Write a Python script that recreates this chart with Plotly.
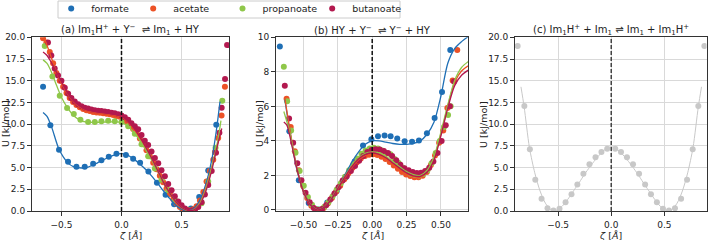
import plotly.graph_objects as go

# ---------------- colours ----------------
C_FORM = "#1f6fb5"
C_ACET = "#ec5226"
C_PROP = "#8fc74a"
C_BUTA = "#b3194f"
C_GREY = "#c8c8c8"

series_names = ["formate", "acetate", "propanoate", "butanoate"]

# ---------------- panel (a): Im1H+ + Y-  <=> Im1 + HY ----------------
a_form_x = [-0.653, -0.592, -0.52, -0.445, -0.375, -0.306, -0.236, -0.167, -0.106, -0.042,
            0.037, 0.097, 0.155, 0.224, 0.295, 0.367, 0.438, 0.505, 0.578, 0.647, 0.722, 0.789]
a_form_y = [14.3, 9.86, 7.04, 5.66, 5.09, 5.09, 5.43, 5.85, 6.24, 6.58,
            6.45, 6.02, 5.55, 4.55, 3.25, 1.88, 0.77, 0.25, 0.3, 1.6, 4.67, 9.94]

a_acet_x = [-0.653, -0.625, -0.597, -0.569, -0.542, -0.514, -0.486, -0.458, -0.431, -0.403,
            -0.375, -0.347, -0.319, -0.292, -0.264, -0.236, -0.208, -0.181, -0.153, -0.125,
            -0.097, -0.069, -0.042, -0.014, 0.014, 0.042, 0.069, 0.097, 0.125, 0.153,
            0.181, 0.208, 0.236, 0.264, 0.292, 0.319, 0.347, 0.375, 0.403, 0.431,
            0.458, 0.486, 0.514, 0.542, 0.569, 0.597, 0.625, 0.653, 0.681, 0.708,
            0.736, 0.764, 0.778, 0.805, 0.833, 0.861]
a_acet_y = [19.9, 19.4, 18.3, 17.0, 15.9, 15.0, 14.3, 13.6, 13.0, 12.55,
            12.2, 11.95, 11.75, 11.6, 11.5, 11.4, 11.35, 11.3, 11.25, 11.2,
            11.15, 11.05, 10.95, 10.85, 10.6, 10.3, 9.9, 9.45, 8.95, 8.35,
            7.7, 7.0, 6.3, 5.55, 4.8, 4.05, 3.3, 2.6, 1.95, 1.35,
            0.85, 0.45, 0.2, 0.06, 0.05, 0.2, 0.55, 1.2, 2.2, 3.4,
            4.6, 5.9, 6.8, 8.4, 11.0, 14.3]

a_prop_x = [-0.639, -0.575, -0.514, -0.453, -0.397, -0.342, -0.278, -0.222, -0.167, -0.111,
            -0.056, 0.0, 0.056, 0.111, 0.167, 0.222, 0.278, 0.333, 0.389, 0.444,
            0.5, 0.556, 0.611, 0.667, 0.722, 0.783, 0.839]
a_prop_y = [19.0, 15.5, 13.27, 11.86, 11.17, 10.5, 10.25, 10.25, 10.32, 10.4,
            10.32, 10.25, 9.75, 8.9, 7.7, 6.3, 4.9, 3.6, 2.4, 1.3,
            0.55, 0.15, 0.15, 0.9, 3.4, 7.27, 12.7]

a_buta_x = [-0.612, -0.584, -0.556, -0.528, -0.5, -0.472, -0.444, -0.417, -0.389, -0.361,
            -0.333, -0.306, -0.278, -0.25, -0.222, -0.194, -0.167, -0.139, -0.111, -0.083,
            -0.056, -0.028, 0.0, 0.028, 0.056, 0.083, 0.111, 0.139, 0.167, 0.194,
            0.222, 0.25, 0.278, 0.306, 0.333, 0.361, 0.389, 0.417, 0.444, 0.472,
            0.5, 0.528, 0.556, 0.583, 0.611, 0.639, 0.667, 0.694, 0.722, 0.751,
            0.787, 0.815, 0.834, 0.862, 0.879]
a_buta_y = [19.4, 17.9, 16.4, 15.6, 15.0, 14.2, 13.5, 13.0, 12.6, 12.3,
            12.05, 11.9, 11.8, 11.7, 11.6, 11.55, 11.5, 11.45, 11.4, 11.3,
            11.25, 11.15, 11.0, 10.8, 10.5, 10.1, 9.75, 9.4, 8.75, 8.1,
            7.6, 6.85, 6.1, 5.5, 4.7, 4.0, 3.1, 2.4, 1.7, 1.1,
            0.65, 0.3, 0.1, 0.05, 0.15, 0.45, 1.0, 1.9, 3.0, 4.6,
            6.7, 9.0, 11.9, 15.2, 19.1]

# fitted curves (a)
a_form_fx = [-0.653, -0.62, -0.58, -0.52, -0.45, -0.4, -0.33, -0.28, -0.2, -0.12, -0.05, 0.0, 0.05,
             0.1, 0.15, 0.2, 0.25, 0.3, 0.35, 0.4, 0.45, 0.5, 0.55, 0.6, 0.65, 0.7, 0.75, 0.79, 0.82]
a_form_fy = [11.35, 10.9, 9.6, 7.1, 5.6, 5.1, 4.95, 5.05, 5.55, 6.1, 6.5, 6.6, 6.45,
             6.0, 5.45, 4.8, 4.05, 3.2, 2.3, 1.45, 0.7, 0.2, 0.02, 0.25, 1.2, 3.0, 5.8, 9.3, 12.6]
a_acet_fx = [-0.645, -0.6, -0.55, -0.5, -0.45, -0.4, -0.35, -0.3, -0.2, -0.1, 0.0, 0.05, 0.1, 0.15,
             0.2, 0.25, 0.3, 0.35, 0.4, 0.45, 0.5, 0.55, 0.6, 0.65, 0.7, 0.75, 0.8, 0.82]
a_acet_fy = [20.0, 18.3, 16.3, 14.7, 13.5, 12.6, 12.0, 11.6, 11.3, 11.1, 10.8, 10.3, 9.5, 8.5,
             7.3, 6.0, 4.6, 3.2, 2.0, 1.0, 0.35, 0.05, 0.15, 0.9, 2.6, 5.0, 7.7, 8.9]
a_prop_fx = [-0.653, -0.62, -0.58, -0.55, -0.5, -0.45, -0.4, -0.35, -0.3, -0.2, -0.1, 0.0, 0.05, 0.1,
             0.15, 0.2, 0.25, 0.3, 0.35, 0.4, 0.45, 0.5, 0.55, 0.6, 0.65, 0.7, 0.75, 0.8, 0.828]
a_prop_fy = [17.4, 17.0, 15.9, 14.8, 13.1, 11.9, 11.0, 10.5, 10.25, 10.2, 10.25, 10.2, 9.8, 9.1,
             8.2, 7.1, 5.9, 4.6, 3.3, 2.1, 1.1, 0.4, 0.05, 0.1, 0.8, 2.4, 4.9, 8.0, 10.4]
a_buta_fx = [-0.653, -0.62, -0.58, -0.55, -0.5, -0.45, -0.4, -0.35, -0.3, -0.2, -0.1, 0.0, 0.05, 0.1,
             0.15, 0.2, 0.25, 0.3, 0.35, 0.4, 0.45, 0.5, 0.55, 0.6, 0.65, 0.7, 0.75, 0.8, 0.835]
a_buta_fy = [18.3, 17.9, 17.0, 16.2, 14.9, 13.6, 12.7, 12.1, 11.7, 11.4, 11.2, 10.9, 10.4, 9.6,
             8.6, 7.4, 6.1, 4.7, 3.3, 2.1, 1.1, 0.4, 0.08, 0.1, 0.7, 2.2, 4.6, 7.6, 9.5]

# ---------------- panel (b): HY + Y-  <=> Y- + HY ----------------
b_form_x = [-0.672, -0.603, -0.534, -0.462, -0.393, -0.327, -0.258, -0.192, -0.128, -0.067, -0.006,
            0.042, 0.09, 0.134, 0.182, 0.236, 0.29, 0.34, 0.398, 0.454, 0.508, 0.568]
b_form_y = [9.46, 4.56, 1.72, 0.4, 0.02, 0.43, 1.1, 1.9, 2.8, 3.73, 4.1,
            4.27, 4.31, 4.27, 4.14, 3.98, 3.95, 4.02, 4.44, 5.33, 6.83, 9.27]

b_acet_x = [-0.623, -0.593, -0.563, -0.533, -0.503, -0.473, -0.443, -0.413, -0.383, -0.353,
            -0.323, -0.293, -0.263, -0.233, -0.203, -0.173, -0.143, -0.113, -0.083, -0.053,
            -0.023, 0.007, 0.037, 0.067, 0.097, 0.127, 0.157, 0.187, 0.217, 0.247,
            0.277, 0.307, 0.337, 0.367, 0.397, 0.427, 0.457, 0.487, 0.517, 0.547,
            0.585, 0.619]
b_acet_y = [6.44, 4.8, 3.4, 2.3, 1.4, 0.7, 0.25, 0.03, 0.0, 0.12,
            0.38, 0.7, 1.05, 1.4, 1.78, 2.12, 2.45, 2.75, 2.98, 3.12,
            3.2, 3.22, 3.18, 3.08, 2.95, 2.78, 2.58, 2.38, 2.2, 2.06,
            1.96, 1.9, 1.9, 1.98, 2.2, 2.6, 3.15, 3.9, 4.6, 5.9,
            7.5, 9.27]

b_prop_x = [-0.643, -0.619, -0.59, -0.558, -0.528, -0.498, -0.468, -0.438, -0.408, -0.378,
            -0.348, -0.318, -0.288, -0.258, -0.228, -0.198, -0.168, -0.138, -0.108, -0.078,
            -0.048, -0.018, 0.012, 0.042, 0.072, 0.102, 0.132, 0.162, 0.192, 0.222,
            0.252, 0.282, 0.312, 0.342, 0.372, 0.402, 0.432, 0.462, 0.492, 0.522,
            0.552, 0.571]
b_prop_y = [8.3, 6.29, 4.6, 3.31, 2.25, 1.4, 0.75, 0.3, 0.06, 0.02,
            0.18, 0.45, 0.8, 1.18, 1.55, 1.93, 2.3, 2.65, 2.98, 3.25,
            3.45, 3.56, 3.6, 3.56, 3.45, 3.3, 3.22, 2.95, 2.72, 2.45,
            2.25, 2.1, 2.02, 2.0, 2.08, 2.3, 2.7, 3.3, 4.0, 4.8,
            5.5, 6.0]

b_buta_x = [-0.636, -0.605, -0.575, -0.545, -0.515, -0.485, -0.455, -0.425, -0.395, -0.365,
            -0.335, -0.305, -0.275, -0.245, -0.215, -0.185, -0.155, -0.125, -0.095, -0.065,
            -0.035, -0.005, 0.025, 0.055, 0.085, 0.115, 0.145, 0.175, 0.205, 0.235,
            0.265, 0.295, 0.325, 0.355, 0.385, 0.415, 0.445, 0.475, 0.505, 0.535,
            0.565, 0.595]
b_buta_y = [7.2, 5.3, 3.89, 2.7, 1.72, 1.0, 0.45, 0.12, 0.0, 0.06,
            0.28, 0.6, 0.95, 1.32, 1.7, 1.95, 2.25, 2.55, 2.85, 3.12,
            3.35, 3.48, 3.52, 3.5, 3.42, 3.3, 3.12, 2.88, 2.62, 2.42,
            2.3, 2.2, 2.14, 2.15, 2.25, 2.45, 2.8, 3.3, 4.0, 4.9,
            6.0, 7.44]

# fitted curves (b)
b_form_fx = [-0.636, -0.6, -0.55, -0.5, -0.45, -0.4, -0.35, -0.3, -0.25, -0.2, -0.15, -0.1, -0.05, 0.0,
             0.05, 0.1, 0.15, 0.2, 0.25, 0.3, 0.35, 0.4, 0.45, 0.5, 0.55, 0.6, 0.65, 0.7]
b_form_fy = [6.4, 4.6, 2.4, 1.05, 0.3, 0.02, 0.15, 0.6, 1.25, 2.0, 2.75, 3.35, 3.8, 4.0,
             4.0, 3.93, 3.85, 3.8, 3.8, 3.85, 4.0, 4.4, 5.1, 6.6, 8.5, 9.35, 9.75, 10.05]
b_acet_fx = [-0.636, -0.6, -0.55, -0.5, -0.45, -0.4, -0.35, -0.3, -0.25, -0.2, -0.15, -0.1, -0.05, 0.0,
             0.05, 0.1, 0.15, 0.2, 0.25, 0.3, 0.35, 0.4, 0.45, 0.5, 0.55, 0.6, 0.65, 0.7]
b_acet_fy = [6.5, 4.7, 2.5, 1.05, 0.3, 0.0, 0.15, 0.6, 1.2, 1.85, 2.45, 2.9, 3.15, 3.22,
             3.15, 2.95, 2.65, 2.35, 2.1, 1.93, 1.9, 2.2, 3.0, 4.4, 6.0, 7.4, 8.05, 8.35]
b_prop_fx = [-0.643, -0.6, -0.55, -0.5, -0.45, -0.4, -0.35, -0.3, -0.25, -0.2, -0.15, -0.1, -0.05, 0.0,
             0.05, 0.1, 0.15, 0.2, 0.25, 0.3, 0.35, 0.4, 0.45, 0.5, 0.55, 0.6, 0.65, 0.7]
b_prop_fy = [5.7, 4.5, 2.5, 1.1, 0.32, 0.02, 0.17, 0.65, 1.3, 1.95, 2.55, 3.0, 3.28, 3.36,
             3.3, 3.1, 2.8, 2.5, 2.22, 2.05, 2.0, 2.3, 3.1, 4.5, 6.1, 7.5, 8.25, 8.6]
b_buta_fx = [-0.643, -0.62, -0.6, -0.55, -0.5, -0.45, -0.4, -0.35, -0.3, -0.25, -0.2, -0.15, -0.1, -0.05,
             0.0, 0.05, 0.1, 0.15, 0.2, 0.25, 0.3, 0.35, 0.4, 0.45, 0.5, 0.55, 0.6, 0.65, 0.7]
b_buta_fy = [5.1, 4.9, 4.3, 2.45, 1.05, 0.3, 0.0, 0.15, 0.6, 1.25, 1.9, 2.5, 2.95, 3.22,
             3.3, 3.22, 3.02, 2.72, 2.42, 2.15, 1.98, 1.95, 2.2, 2.9, 4.3, 5.9, 7.2, 7.8, 8.1]

# ---------------- panel (c): Im1H+ + Im1 <=> Im1 + Im1H+ ----------------
c_x = [-0.881, -0.818, -0.766, -0.715, -0.656, -0.6, -0.544, -0.487, -0.43, -0.374, -0.319, -0.262,
       -0.205, -0.148, -0.092, -0.038, 0.038, 0.092, 0.148, 0.205, 0.262, 0.319, 0.374, 0.43,
       0.487, 0.544, 0.6, 0.658, 0.714, 0.767, 0.82, 0.877]
c_y = [19.0, 12.1, 7.1, 3.6, 1.4, 0.32, 0.06, 0.25, 1.02, 1.94, 3.06, 4.3,
       5.38, 6.2, 6.79, 7.18, 7.18, 6.79, 6.2, 5.38, 4.3, 3.06, 1.94, 1.02,
       0.25, 0.06, 0.32, 1.4, 3.6, 7.1, 12.1, 19.0]
c_fx = [-0.85, -0.82, -0.77, -0.72, -0.67, -0.62, -0.57, -0.54, -0.5, -0.45, -0.4, -0.35, -0.3,
        -0.25, -0.2, -0.15, -0.1, -0.05, 0.0, 0.05, 0.1, 0.15, 0.2, 0.25, 0.3, 0.35, 0.4,
        0.45, 0.5, 0.54, 0.57, 0.62, 0.67, 0.72, 0.77, 0.82, 0.85]
c_fy = [14.3, 12.0, 7.3, 4.4, 2.3, 0.9, 0.15, 0.02, 0.15, 0.7, 1.5, 2.4, 3.3,
        4.25, 5.1, 5.9, 6.6, 7.15, 7.4, 7.15, 6.6, 5.9, 5.1, 4.25, 3.3, 2.4, 1.5,
        0.7, 0.15, 0.02, 0.15, 0.9, 2.3, 4.4, 7.3, 12.0, 14.3]

titles = ["(a) Im<sub>1</sub>H<sup>+</sup> + Y<sup>\u2212</sup>  \u21cc Im<sub>1</sub> + HY",
          "(b) HY + Y<sup>\u2212</sup>  \u21cc Y<sup>\u2212</sup> + HY",
          "(c) Im<sub>1</sub>H<sup>+</sup> + Im<sub>1</sub> \u21cc Im<sub>1</sub> + Im<sub>1</sub>H<sup>+</sup>"]
ylabel = "U [kJ/mol]"
xlabel = "<i>\u03b6</i> [<i>\u00c5</i>]"

FONT = "DejaVu Sans"
MS = 6
LW = 1.3

fig = go.Figure()
legend_ids = ["legend", "legend2", "legend3", "legend4"]


def add_pts(x, y, color, xa, ya, name, legend, lid="legend"):
    fig.add_trace(go.Scatter(x=x, y=y, mode="markers", name=name, showlegend=legend, legend=lid,
                             marker=dict(color=color, size=MS, line=dict(width=0)),
                             xaxis=xa, yaxis=ya, cliponaxis=True))


def add_line(x, y, color, xa, ya, width=LW):
    fig.add_trace(go.Scatter(x=x, y=y, mode="lines", showlegend=False, hoverinfo="skip",
                             line=dict(color=color, width=width, shape="spline", smoothing=0.8),
                             xaxis=xa, yaxis=ya))


cols = [C_FORM, C_ACET, C_PROP, C_BUTA]
a_pts = [(a_form_x, a_form_y), (a_acet_x, a_acet_y), (a_prop_x, a_prop_y), (a_buta_x, a_buta_y)]
a_fit = [(a_form_fx, a_form_fy), (a_acet_fx, a_acet_fy), (a_prop_fx, a_prop_fy), (a_buta_fx, a_buta_fy)]
b_pts = [(b_form_x, b_form_y), (b_acet_x, b_acet_y), (b_prop_x, b_prop_y), (b_buta_x, b_buta_y)]
b_fit = [(b_form_fx, b_form_fy), (b_acet_fx, b_acet_fy), (b_prop_fx, b_prop_fy), (b_buta_fx, b_buta_fy)]

for (x, y), c, n, lid in zip(a_pts, cols, series_names, legend_ids):
    add_pts(x, y, c, "x", "y", n, True, lid)
for (x, y), c in zip(a_fit, cols):
    add_line(x, y, c, "x", "y")
for (x, y), c, n in zip(b_pts, cols, series_names):
    add_pts(x, y, c, "x2", "y2", n, False)
for (x, y), c in zip(b_fit, cols):
    add_line(x, y, c, "x2", "y2")
add_pts(c_x, c_y, C_GREY, "x3", "y3", "c", False)
add_line(c_fx, c_fy, C_GREY, "x3", "y3", width=1.0)

W, H = 708, 240
top_px, bot_px = 37.3, 211.0
ydom = [1 - bot_px / H, 1 - top_px / H]
panels = [(32, 229), (276, 468), (515, 706.5)]
xdoms = [[a / W, b / W] for a, b in panels]

axis_common = dict(showgrid=True, gridcolor="#d9d9d9", gridwidth=1, zeroline=False,
                   showline=True, mirror=True, linecolor="#333333", linewidth=1,
                   ticks="outside", ticklen=4, tickwidth=1, tickcolor="#333333",
                   tickfont=dict(family=FONT, size=9, color="#222222"))

# one legend box per entry, so each entry sits where the reference shows it
legend_marker_px = [70.7, 152.7, 242.0, 331.7]
legend_layout = {}
for lid, mx in zip(legend_ids, legend_marker_px):
    legend_layout[lid] = dict(orientation="h", x=(mx - 19.5) / W, y=1 - 8.5 / H,
                              xref="container", yref="container",
                              xanchor="left", yanchor="middle",
                              bgcolor="rgba(0,0,0,0)", borderwidth=0,
                              font=dict(family=FONT, size=9.5, color="#222222"))

fig.update_layout(
    width=W, height=H, margin=dict(l=0, r=0, t=0, b=0, autoexpand=False),
    paper_bgcolor="white", plot_bgcolor="white",
    font=dict(family=FONT, size=9, color="#222222"),
    xaxis=dict(domain=xdoms[0], range=[-0.745, 0.895], tickvals=[-0.5, 0, 0.5], tickformat=".1f",
               anchor="y", ticklabelstandoff=1, **axis_common),
    yaxis=dict(domain=ydom, range=[0, 20], dtick=2.5, tick0=0, tickformat=".1f", anchor="x",
               **axis_common),
    xaxis2=dict(domain=xdoms[1], range=[-0.70, 0.697], tickvals=[-0.5, -0.25, 0, 0.25, 0.5],
                tickformat=".2f", anchor="y2", ticklabelstandoff=1, **axis_common),
    yaxis2=dict(domain=ydom, range=[-0.06, 10], dtick=2, tick0=0, anchor="x2", **axis_common),
    xaxis3=dict(domain=xdoms[2], range=[-0.906, 0.897], tickvals=[-0.5, 0, 0.5], tickformat=".1f",
                anchor="y3", ticklabelstandoff=1, **axis_common),
    yaxis3=dict(domain=ydom, range=[0, 20], dtick=2.5, tick0=0, tickformat=".1f", anchor="x3",
                **axis_common),
    **legend_layout,
)

# legend frame
fig.add_shape(type="rect", x0=58 / W, x1=400 / W, y0=1 - 18 / H, y1=1 - 1 / H,
              xref="paper", yref="paper", line=dict(color="#cccccc", width=1),
              fillcolor="white", layer="below")

# dashed vertical line at zeta = 0
for xr, yr, col in [("x", "y domain", "#111111"), ("x2", "y2 domain", "#111111"), ("x3", "y3 domain", "#444444")]:
    fig.add_shape(type="line", x0=0, x1=0, y0=0, y1=1, xref=xr, yref=yr,
                  line=dict(color=col, width=1.5, dash="4px,2px"))

# titles and axis labels
for (a, b), t in zip(panels, titles):
    cx = (a + b) / 2 / W
    fig.add_annotation(text=t, x=cx, y=1 - 30 / H, xref="paper", yref="paper",
                       showarrow=False, xanchor="center", yanchor="middle",
                       font=dict(family=FONT, size=10, color="#222222"))
    fig.add_annotation(text=xlabel, x=cx, y=1 - 235 / H, xref="paper", yref="paper",
                       showarrow=False, xanchor="center", yanchor="middle", borderpad=0,
                       font=dict(family=FONT, size=9.5, color="#222222"))
for lx in [5, 259, 483]:
    fig.add_annotation(text=ylabel, x=lx / W, y=1 - 124 / H, xref="paper", yref="paper",
                       showarrow=False, xanchor="center", yanchor="middle", textangle=-90,
                       font=dict(family=FONT, size=9.5, color="#222222"))

fig.write_html("out.html")
